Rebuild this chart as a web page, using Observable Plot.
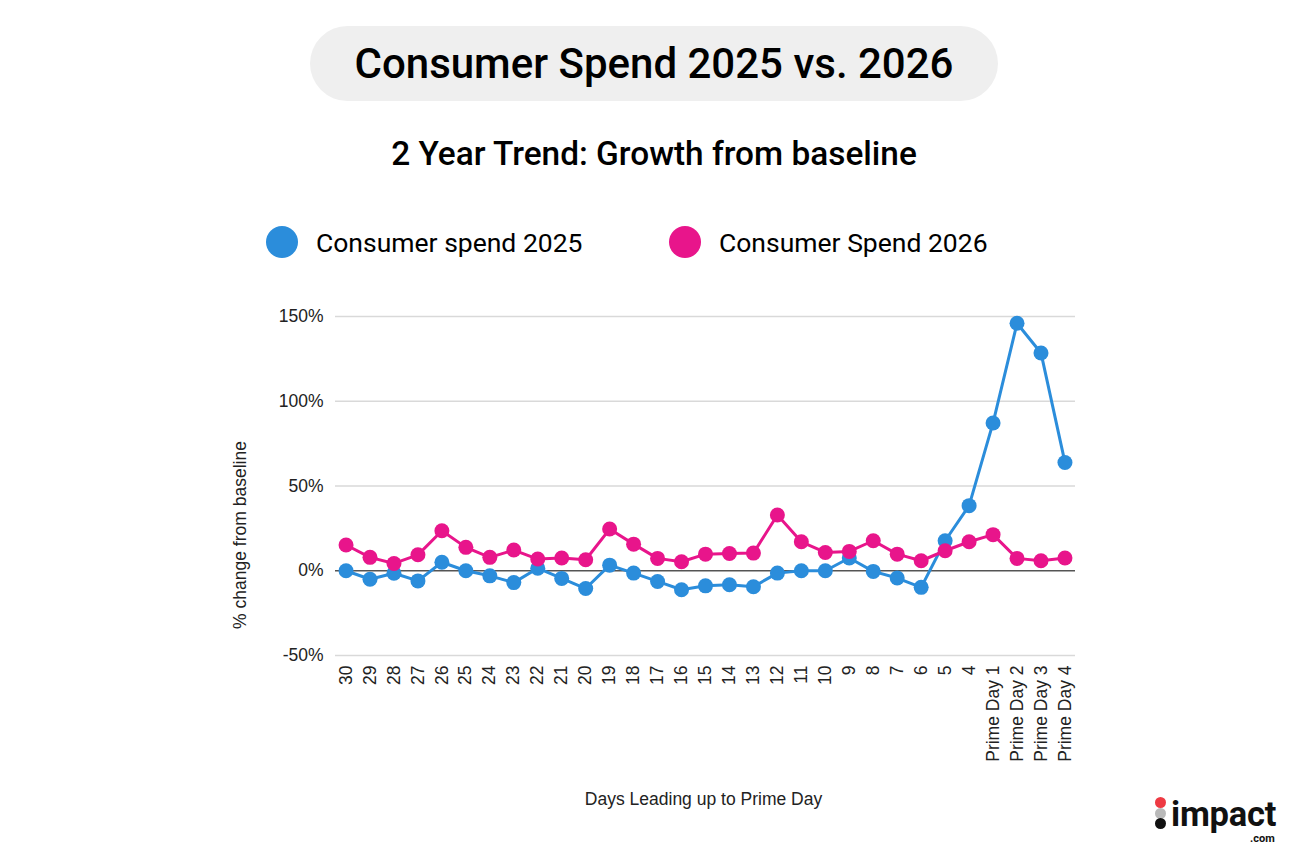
<!DOCTYPE html>
<html>
<head>
<meta charset="utf-8">
<script src="https://cdn.jsdelivr.net/npm/d3@7"></script>
<script src="https://cdn.jsdelivr.net/npm/@observablehq/plot@0.6"></script>
<style>
  body { margin: 0; background: #fff; }
  #page { position: relative; width: 1308px; height: 868px; overflow: hidden; font-family: Roboto, "Liberation Sans", sans-serif; }
  .pill { position: absolute; left: 310px; top: 26px; width: 688px; height: 75px; border-radius: 38px; background: #efefef; }
  .title { position: absolute; left: 0; width: 1308px; top: 26px; height: 75px; line-height: 75px; text-align: center; font-size: 42px; font-weight: 500; color: #000; }
  .subtitle { position: absolute; left: 0; width: 1308px; top: 134px; text-align: center; font-size: 33.4px; font-weight: 500; color: #000; }
  .legend { position: absolute; top: 226px; height: 32px; display: flex; align-items: center; font-size: 26.5px; color: #000; }
  .legend .sw { width: 32px; height: 32px; border-radius: 50%; margin-right: 18px; }
  #chart { position: absolute; left: 0; top: 290px; }
  .logo { position: absolute; left: 1154px; top: 796px; width: 140px; height: 50px; }
  .logo .d { position: absolute; left: 1px; width: 11px; height: 11px; border-radius: 50%; }
  .logo .word { position: absolute; left: 17px; top: 1px; font-family: Roboto, sans-serif; font-weight: 700; font-size: 34.5px; line-height: 34px; color: #111; letter-spacing: -0.2px; }
  .logo .com { position: absolute; left: 96px; top: 37px; font-family: Roboto, sans-serif; font-weight: 700; font-size: 11px; line-height: 11px; color: #111; }
</style>
</head>
<body>
<div id="page">
  <div class="pill"></div>
  <div class="title">Consumer Spend 2025 vs. 2026</div>
  <div class="subtitle">2 Year Trend: Growth from baseline</div>
  <div class="legend" style="left:266px"><div class="sw" style="background:#2b8ddb"></div>Consumer spend 2025</div>
  <div class="legend" style="left:669px"><div class="sw" style="background:#e8158b"></div>Consumer Spend 2026</div>
  <div id="chart"></div>
  <div class="logo">
    <div class="d" style="top:1px;background:#ee3a43"></div>
    <div class="d" style="top:12px;background:#b9b9b9"></div>
    <div class="d" style="top:22px;background:#111"></div>
    <div class="word">impact</div>
    <div class="com">.com</div>
  </div>
</div>
<script>
const days = ["30","29","28","27","26","25","24","23","22","21","20","19","18","17","16","15","14","13","12","11","10","9","8","7","6","5","4","Prime Day 1","Prime Day 2","Prime Day 3","Prime Day 4"];
const spend2025 = [0,-5,-1.5,-6,5,0,-3,-7,1.5,-4.5,-10.5,3.3,-1.4,-6.3,-11.2,-8.9,-8.3,-9.4,-1.4,0,0,7.5,-0.4,-4.3,-9.8,17.7,38.4,87.2,146,128.5,63.9];
const spend2026 = [15.2,7.9,4.3,9.4,23.6,13.8,7.9,12.2,6.9,7.5,6.5,24.6,15.7,7.3,5.3,9.8,10.2,10.4,32.9,17.1,10.8,11.4,17.7,9.8,5.9,11.8,17.1,21.3,7.3,5.9,7.5];
const yTicks = [-50, 0, 50, 100, 150];
const seriesNames = ["Consumer spend 2025", "Consumer Spend 2026"];
const seriesColors = ["#2b8ddb", "#e8158b"];

const d25 = days.map((d, i) => ({day: d, value: spend2025[i]}));
const d26 = days.map((d, i) => ({day: d, value: spend2026[i]}));

const chart = Plot.plot({
  width: 1308,
  height: 578,
  marginLeft: 335,
  marginRight: 233,
  marginTop: 26,
  marginBottom: 213,
  style: {fontFamily: "'Liberation Sans', Arial, sans-serif", fontSize: "17.5px", color: "#222", background: "transparent"},
  x: {type: "point", domain: days, padding: 0.44, round: false, label: null},
  y: {domain: [-50, 150], label: null},
  marks: [
    Plot.ruleY(yTicks.filter(d => d !== 0), {stroke: "#d9d9d9", strokeWidth: 1.5}),
    Plot.ruleY([0], {stroke: "#555", strokeWidth: 1.5}),
    Plot.axisY({ticks: yTicks, tickSize: 0, tickPadding: 12, tickFormat: d => d + "%", label: null, fontSize: 17.5}),
    Plot.axisX({tickRotate: -90, tickSize: 0, tickPadding: 10, label: null, fontSize: 17.5}),
    Plot.text(["% change from baseline"], {frameAnchor: "left", dx: -95, dy: 49, rotate: -90, textAnchor: "middle", lineAnchor: "middle", fontSize: 17.5, fill: "#222"}),
    Plot.text(["Days Leading up to Prime Day"], {frameAnchor: "bottom", dy: 144, dx: -2, lineAnchor: "middle", textAnchor: "middle", fontSize: 17.5, fill: "#222"}),
    Plot.lineY(d25, {x: "day", y: "value", stroke: seriesColors[0], strokeWidth: 3}),
    Plot.dot(d25, {x: "day", y: "value", r: 7.5, fill: seriesColors[0]}),
    Plot.lineY(d26, {x: "day", y: "value", stroke: seriesColors[1], strokeWidth: 3}),
    Plot.dot(d26, {x: "day", y: "value", r: 7.5, fill: seriesColors[1]})
  ]
});
document.getElementById("chart").appendChild(chart);
</script>
</body>
</html>
